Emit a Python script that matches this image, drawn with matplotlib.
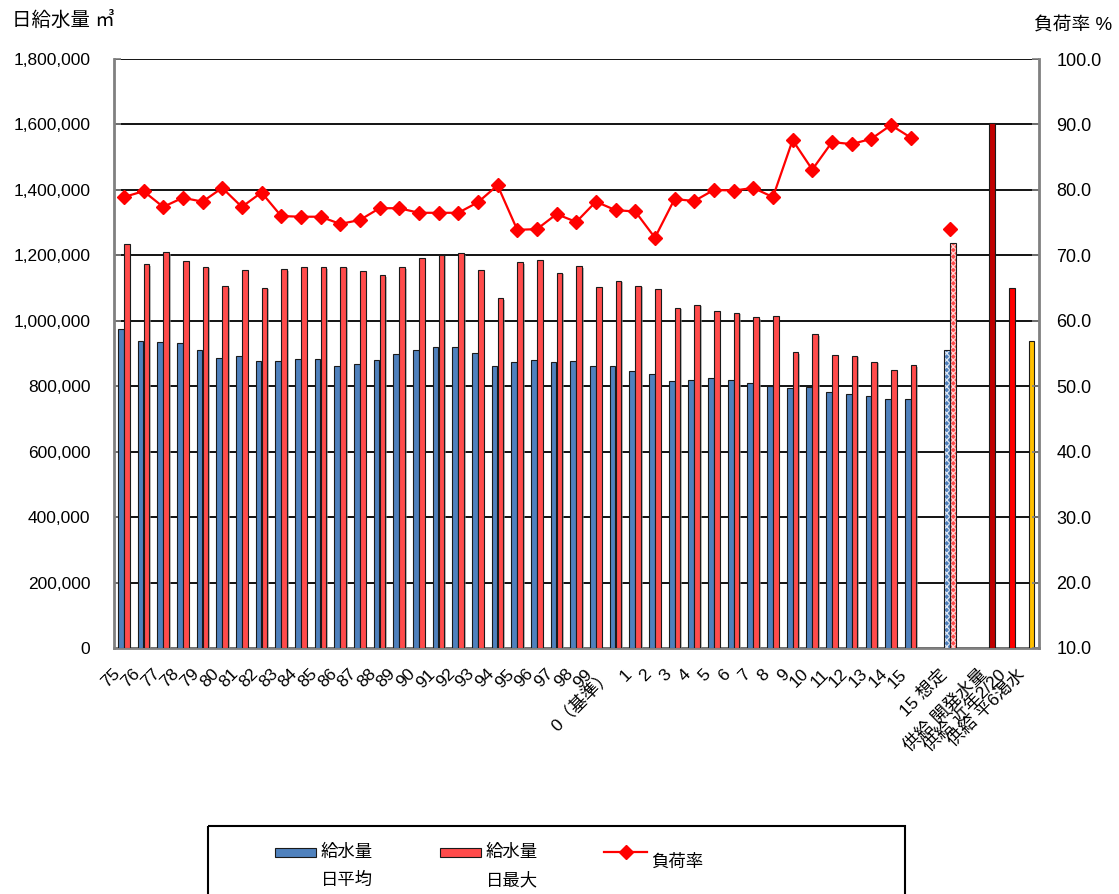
import matplotlib
matplotlib.use("Agg")
import matplotlib.pyplot as plt
import matplotlib.patheffects as pe
import numpy as np
from matplotlib.ticker import FuncFormatter
from matplotlib.patches import Rectangle
from matplotlib.lines import Line2D
from matplotlib.transforms import ScaledTranslation

plt.rcParams['font.family'] = ['Liberation Sans', 'Noto Sans CJK JP']
plt.rcParams['hatch.linewidth'] = 0.9

# 年度 (75=1975 ... 0(基準) ... 15)
years = ['75', '76', '77', '78', '79', '80', '81', '82', '83', '84', '85', '86', '87',
         '88', '89', '90', '91', '92', '93', '94', '95', '96', '97', '98', '99',
         '0（基準）', '1', '2', '3', '4', '5', '6', '7', '8', '9', '10', '11', '12',
         '13', '14', '15']

# 日平均給水量 (m3)
daily_avg = [975000, 937000, 934000, 932000, 912000, 886000, 892000, 876000, 878000,
             884000, 882000, 863000, 867000, 879000, 898000, 911000, 919000, 921000,
             902000, 861000, 873000, 879000, 874000, 877000, 862000, 861000, 847000,
             836000, 817000, 820000, 825000, 818000, 811000, 802000, 794000, 799000,
             782000, 776000, 770000, 761000, 760000]

# 日最大給水量 (m3)
daily_max = [1235000, 1174000, 1210000, 1183000, 1165000, 1106000, 1156000, 1101000,
             1157000, 1165000, 1164000, 1165000, 1153000, 1139000, 1164000, 1191000,
             1202000, 1206000, 1155000, 1069000, 1180000, 1186000, 1147000, 1167000,
             1102000, 1123000, 1107000, 1097000, 1040000, 1049000, 1031000, 1025000,
             1011000, 1016000, 905000, 959000, 895000, 893000, 875000, 849000, 865000]

# 負荷率 (%)
load_factor = [78.9, 79.8, 77.4, 78.8, 78.2, 80.3, 77.4, 79.6, 76.0, 75.9, 75.9, 74.8,
               75.4, 77.2, 77.2, 76.5, 76.5, 76.5, 78.1, 80.7, 73.9, 74.0, 76.3, 75.1,
               78.2, 76.9, 76.7, 72.7, 78.6, 78.3, 80.0, 79.9, 80.3, 78.9, 87.6, 83.1,
               87.3, 87.0, 87.8, 89.9, 88.0]

# 15年度想定
forecast_label = '15 想定'
forecast_avg = 911000
forecast_max = 1238000
forecast_load = 74.0

# 供給能力
supply_labels = ['供給 開発水量', '供給 近年2/20', '供給 平6渇水']
supply_values = [1605000, 1100000, 938000]
supply_colors = ['#C00000', '#FF0000', '#FFC000']

left_ticks = list(range(0, 1800001, 200000))
right_ticks = list(range(10, 101, 10))

BLUE = '#4F81BD'
RED = '#FF4B4B'
LINE_RED = '#FF0000'
GRAY = '#808080'
EDGE = '#1a1a1a'

categories = years + [''] + [forecast_label] + [''] + supply_labels
n_years = len(years)
x_years = np.arange(n_years)
x_forecast = n_years + 1
x_supply = np.arange(n_years + 3, n_years + 3 + len(supply_labels))

W, H = 1119, 894
fig = plt.figure(figsize=(W / 100, H / 100), dpi=100)
ax = fig.add_axes([114 / W, 1 - 648 / H, (1038.5 - 114) / W, (648 - 59) / H])
ax2 = ax.twinx()

bw = 0.29
off = 0.15
shadow = [pe.SimplePatchShadow(offset=(1.2, -1.2), shadow_rgbFace='#909090', alpha=0.6),
          pe.Normal()]

# 実績
ax.bar(x_years - off, daily_avg, bw, color=BLUE, edgecolor=EDGE, linewidth=0.8,
       zorder=3, path_effects=shadow)
ax.bar(x_years + off, daily_max, bw, color=RED, edgecolor=EDGE, linewidth=0.8,
       zorder=3, path_effects=shadow)

# 想定 (網掛け)
ax.bar(x_forecast - off, forecast_avg, bw, color=BLUE, edgecolor='#dfe8f5', hatch='xxxxx',
       linewidth=0, zorder=3)
ax.bar(x_forecast - off, forecast_avg, bw, fill=False, edgecolor=EDGE, linewidth=0.8, zorder=4)
ax.bar(x_forecast + off, forecast_max, bw, color=RED, edgecolor='#ffd6d6', hatch='xxxxx',
       linewidth=0, zorder=3)
ax.bar(x_forecast + off, forecast_max, bw, fill=False, edgecolor=EDGE, linewidth=0.8, zorder=4)

# 供給能力
ax.bar(x_supply + off, supply_values, bw, color=supply_colors, edgecolor=EDGE,
       linewidth=0.8, zorder=3)

ax.set_xlim(-0.5, len(categories) - 0.5)
ax.set_ylim(0, 1800000)
ax.set_yticks(left_ticks)
ax.yaxis.set_major_formatter(FuncFormatter(lambda v, p: f'{int(v):,}'))
ax.grid(axis='y', color='black', linewidth=1.3, zorder=1)
ax.set_axisbelow(True)

ax.set_xticks(np.arange(len(categories)))
ax.set_xticklabels(categories, rotation=45, ha='right', va='center',
                   rotation_mode='anchor', fontsize=12.5)
ax.tick_params(axis='x', length=0, pad=17)
shift = ScaledTranslation(-6 / 100, 0, fig.dpi_scale_trans)
for lbl in ax.get_xticklabels():
    lbl.set_transform(lbl.get_transform() + shift)
ax.tick_params(axis='y', direction='in', length=5, color=GRAY, width=1.2,
               labelsize=12.5, pad=17)

for s in ['top', 'right']:
    ax.spines[s].set_visible(False)
for s in ['left', 'bottom']:
    ax.spines[s].set_color(GRAY)
    ax.spines[s].set_linewidth(2)

# 負荷率
ax2.plot(x_years, load_factor, color=LINE_RED, linewidth=1.6, marker='D',
         markersize=7, markerfacecolor=LINE_RED, markeredgecolor=LINE_RED, zorder=5)
ax2.plot([x_forecast], [forecast_load], linestyle='none', marker='D', markersize=7,
         color=LINE_RED, zorder=5)
ax2.set_ylim(10, 100)
ax2.set_yticks(right_ticks)
ax2.yaxis.set_major_formatter(FuncFormatter(lambda v, p: f'{v:.1f}'))
ax2.tick_params(axis='y', direction='in', length=5, color=GRAY, width=1.2,
                labelsize=13, pad=13)
for s in ['top', 'left', 'bottom']:
    ax2.spines[s].set_visible(False)
ax2.spines['right'].set_color(GRAY)
ax2.spines['right'].set_linewidth(2)

# 軸タイトル
fig.text(12 / W, 1 - 20 / H, '日給水量 ㎥', fontsize=14, ha='left', va='center')
fig.text(1112 / W, 1 - 26 / H, '負荷率 %', fontsize=13.5, ha='right', va='center')

# 凡例
lax = fig.add_axes([0, 0, 1, 1], zorder=10)
lax.set_xlim(0, W)
lax.set_ylim(H, 0)
lax.axis('off')
lax.add_patch(Rectangle((208, 826), 905 - 208, 80, fill=False, edgecolor='black',
                        linewidth=1.5, clip_on=False))
lax.add_patch(Rectangle((275, 848), 41, 8.5, facecolor=BLUE, edgecolor=EDGE,
                        linewidth=0.8))
lax.text(321, 852, '給水量', fontsize=12.5, ha='left', va='center')
lax.text(321, 880, '日平均', fontsize=12.5, ha='left', va='center')
lax.add_patch(Rectangle((440, 848), 41, 8.5, facecolor=RED, edgecolor=EDGE,
                        linewidth=0.8))
lax.text(486, 852, '給水量', fontsize=12.5, ha='left', va='center')
lax.text(486, 880, '日最大', fontsize=12.5, ha='left', va='center')
lax.add_line(Line2D([604, 647], [852, 852], color=LINE_RED, linewidth=1.6))
lax.add_line(Line2D([625.5], [852], color=LINE_RED, marker='D', markersize=7))
lax.text(651, 862, '負荷率', fontsize=12.5, ha='left', va='center')

fig.savefig('out.png', dpi=100)
